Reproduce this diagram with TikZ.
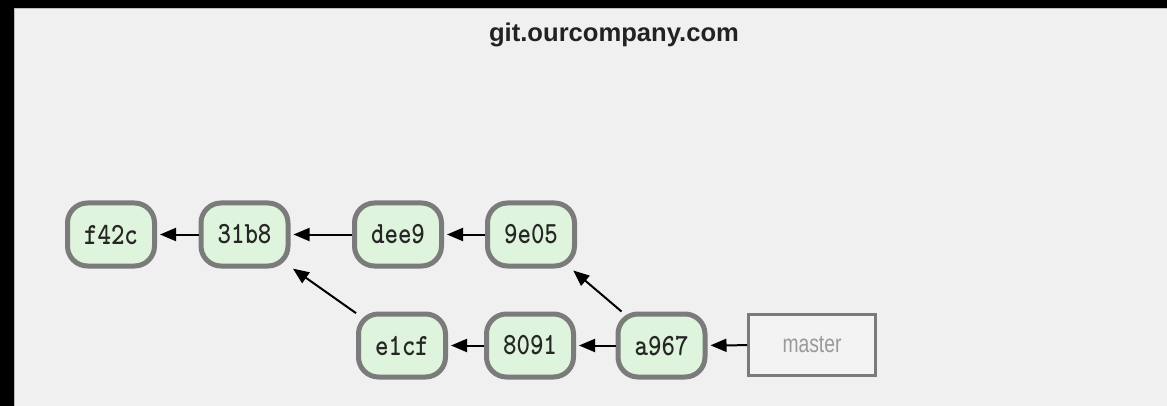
\documentclass[tikz,border=0pt]{standalone}
\usepackage{fontspec}
\usepackage{graphicx}
\usetikzlibrary{arrows.meta}
\newfontfamily\titlefont{Liberation Sans}
\newfontfamily\reffont{Liberation Sans}
\newcommand\tallt[2][1.2]{\scalebox{1}[#1]{#2}}
\definecolor{panel}{HTML}{F0F0F0}
\definecolor{panelrim}{HTML}{BDBDBD}
\definecolor{commitfill}{HTML}{DFF4DC}
\definecolor{commitline}{HTML}{7B7B7B}
\definecolor{refline}{HTML}{7A7A7A}
\definecolor{reffill}{HTML}{F3F3F3}
\definecolor{reftext}{HTML}{9A9A9A}
\definecolor{titletext}{HTML}{222222}
\begin{document}
\begin{tikzpicture}[x=1pt,y=-1pt,
  commit/.style={draw=commitline, line width=5pt, fill=commitfill,
    rounded corners=20pt, minimum width=87pt, minimum height=63pt,
    inner sep=0pt, text=black!85,
    font=\fontsize{25.7}{26}\selectfont\ttfamily\bfseries},
  branchref/.style={draw=refline, line width=3pt, fill=reffill,
    minimum width=127pt, minimum height=61pt, inner sep=0pt,
    text=reftext, font=\fontsize{19.3}{20}\reffont},
  parent/.style={-{Triangle[length=16pt,width=13pt]}, line width=2pt,
    shorten >=3pt}]
\useasboundingbox (0,0) rectangle (1167,406);
\fill[black] (0,0) rectangle (1167,406);
\fill[panel] (14,8) rectangle (1167,406);
\draw[panelrim, line width=1pt] (14.5,406) |- (1167,8.5);

\node[anchor=base, text=titletext, font=\fontsize{25.6}{26}\titlefont\bfseries]
  (title) at (614,41.5) {git.ourcompany.com};

\node[commit] (cf42c) at (111,234.5) {\tallt{f42c}};
\node[commit] (c31b8) at (244.5,234.5) {\tallt{31b8}};
\node[commit] (cdee9) at (398,234.5) {\tallt{dee9}};
\node[commit] (c9e05) at (531,234.5) {\tallt{9e05}};
\node[commit] (ce1cf) at (402,345.5) {\tallt{e1cf}};
\node[commit] (c8091) at (530,345.5) {\tallt{8091}};
\node[commit] (ca967) at (661.5,345.5) {\tallt{a967}};
\node[branchref] (master) at (812,345) {\tallt[1.3]{master}};

\draw[parent] (c31b8) -- (cf42c);
\draw[parent] (cdee9) -- (c31b8);
\draw[parent] (c9e05) -- (cdee9);
\draw[parent] (ce1cf) -- (c31b8);
\draw[parent] (c8091) -- (ce1cf);
\draw[parent] (ca967) -- (c8091);
\draw[parent] (ca967) -- (c9e05);
\draw[parent] (master) -- (ca967);
\end{tikzpicture}
\end{document}
